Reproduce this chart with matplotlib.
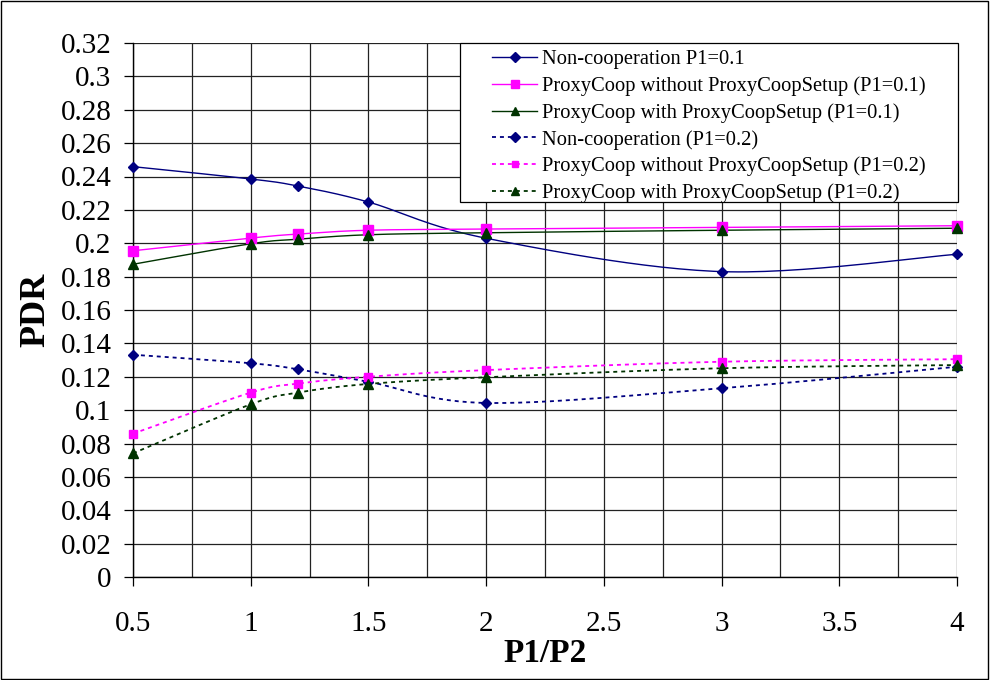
import numpy as np
import matplotlib
matplotlib.use("Agg")
import matplotlib.pyplot as plt
from matplotlib.ticker import MultipleLocator, FixedLocator
from matplotlib.patches import Rectangle

# ---- data ----
x = [0.5, 1.0, 1.2, 1.5, 2.0, 3.0, 4.0]
noncoop_01 = [0.2459, 0.2385, 0.2343, 0.2247, 0.2030, 0.1830, 0.1934]
proxy_wo_01 = [0.1955, 0.2031, 0.2055, 0.2078, 0.2085, 0.2095, 0.2105]
proxy_w_01 = [0.1874, 0.1997, 0.2024, 0.2051, 0.2063, 0.2078, 0.2090]
noncoop_02 = [0.1332, 0.1281, 0.1245, 0.1170, 0.1043, 0.1131, 0.1260]
proxy_wo_02 = [0.0859, 0.1105, 0.1159, 0.1200, 0.1240, 0.1290, 0.1305]
proxy_w_02 = [0.0741, 0.1035, 0.1105, 0.1157, 0.1197, 0.1251, 0.1270]
labels = [
    "Non-cooperation P1=0.1",
    "ProxyCoop without ProxyCoopSetup (P1=0.1)",
    "ProxyCoop with ProxyCoopSetup (P1=0.1)",
    "Non-cooperation (P1=0.2)",
    "ProxyCoop without ProxyCoopSetup (P1=0.2)",
    "ProxyCoop with ProxyCoopSetup (P1=0.2)",
]
x_ticks = [0.5, 1, 1.5, 2, 2.5, 3, 3.5, 4]
x_tick_labels = ["0.5", "1", "1.5", "2", "2.5", "3", "3.5", "4"]
y_ticks = [0, 0.02, 0.04, 0.06, 0.08, 0.1, 0.12, 0.14, 0.16, 0.18, 0.2,
           0.22, 0.24, 0.26, 0.28, 0.3, 0.32]
y_tick_labels = ["0", "0.02", "0.04", "0.06", "0.08", "0.1", "0.12", "0.14",
                 "0.16", "0.18", "0.2", "0.22", "0.24", "0.26", "0.28", "0.3", "0.32"]


def smooth(xs, ys, n=30):
    """Excel-style smoothed line (Catmull-Rom Bezier) through the points."""
    P = np.column_stack([xs, ys]).astype(float)
    out = []
    for i in range(len(P) - 1):
        p0 = P[i - 1] if i > 0 else P[i]
        p1 = P[i]
        p2 = P[i + 1]
        p3 = P[i + 2] if i + 2 < len(P) else P[i + 1]
        c1 = p1 + (p2 - p0) / 6.0
        c2 = p2 - (p3 - p1) / 6.0
        t = np.linspace(0, 1, n)[:, None]
        seg = ((1 - t) ** 3) * p1 + 3 * ((1 - t) ** 2) * t * c1 + 3 * (1 - t) * t ** 2 * c2 + t ** 3 * p2
        out.append(seg if i == 0 else seg[1:])
    S = np.vstack(out)
    return S[:, 0], S[:, 1]


plt.rcParams['font.family'] = ['Liberation Serif', 'DejaVu Serif']

W, H = 990, 680
fig = plt.figure(figsize=(9.9, 6.8), dpi=100)
ax = fig.add_axes([133 / W, 1 - 577 / H, (957 - 133) / W, (577 - 43) / H])

navy = '#000080'
mag = '#FF00FF'
green = '#003300'
dots = (0, (2.2, 2.2))

series = [
    (noncoop_01, navy, '-', 'D', 5.5, 1.0),
    (proxy_wo_01, mag, '-', 's', 6.5, 1.0),
    (proxy_w_01, green, '-', '^', 7.0, 1.0),
    (noncoop_02, navy, dots, 'D', 5.5, 1.3),
    (proxy_wo_02, mag, dots, 's', 5.5, 1.3),
    (proxy_w_02, green, dots, '^', 7.0, 1.3),
]
handles = []
for (ys, c, ls, m, ms, lw), lab in zip(series, labels):
    sx, sy = smooth(x, ys)
    ax.plot(sx, sy, color=c, linestyle=ls, lw=lw, zorder=3)
    ax.plot(x, ys, linestyle='none', marker=m, markersize=ms, color=c,
            markeredgecolor=c, zorder=4, clip_on=False)
    h, = ax.plot([], [], color=c, linestyle=ls, lw=lw, marker=m,
                 markersize=ms * 0.85, markeredgecolor=c)
    handles.append(h)

ax.set_xlim(0.5, 4)
ax.set_ylim(0, 0.32)
ax.xaxis.set_major_locator(FixedLocator(x_ticks))
ax.set_xticklabels(x_tick_labels)
ax.xaxis.set_minor_locator(MultipleLocator(0.25))
ax.yaxis.set_major_locator(FixedLocator(y_ticks))
ax.set_yticklabels(y_tick_labels)

ax.grid(True, which='both', axis='x', color='#222222', lw=0.9, zorder=0)
ax.grid(True, which='major', axis='y', color='#222222', lw=0.9, zorder=0)
ax.set_axisbelow(True)
for s in ['top', 'right']:
    ax.spines[s].set_visible(False)
for s in ['left', 'bottom']:
    ax.spines[s].set_color('black')
    ax.spines[s].set_linewidth(1.0)

ax.tick_params(axis='y', which='major', direction='out', length=6.5, width=0.9,
               labelsize=21, pad=9)
ax.tick_params(axis='x', which='major', direction='out', length=6.5, width=0.9,
               labelsize=21, pad=18)
ax.tick_params(axis='x', which='minor', length=0)

fig.text(36 / W, 1 - 310 / H, 'PDR', rotation=90, fontsize=26,
         fontweight='bold', ha='center', va='center')
fig.text(545 / W, 1 - 654 / H, 'P1/P2', fontsize=24,
         fontweight='bold', ha='center', va='center')

# legend box (white, black border) and frameless legend inside it
fig.patches.append(Rectangle((460 / W, 1 - 202 / H), (958 - 460) / W, (202 - 43) / H,
                             transform=fig.transFigure, facecolor='white',
                             edgecolor='black', lw=0.9, zorder=9))
leg = fig.legend(handles, labels, loc='upper left',
                 bbox_to_anchor=(492 / W, 1 - 50 / H),
                 bbox_transform=fig.transFigure, fontsize=14.8,
                 numpoints=1, handlelength=2.2, handletextpad=0.25,
                 labelspacing=0.34, borderpad=0, borderaxespad=0,
                 frameon=False)
leg.set_zorder(10)

fig.patches.append(Rectangle((0.001, 0.001), 0.997, 0.997, transform=fig.transFigure,
                             fill=False, edgecolor='black', lw=1.0))

fig.savefig('out.png', dpi=100)
